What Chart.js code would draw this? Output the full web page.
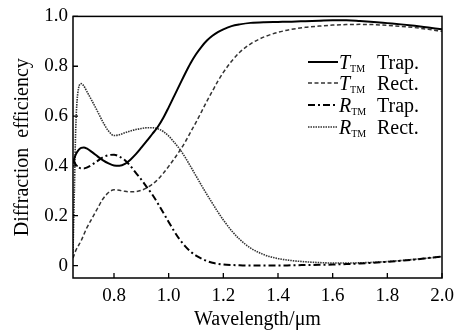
<!DOCTYPE html>
<html>
<head>
<meta charset="utf-8">
<script src="https://cdn.jsdelivr.net/npm/chart.js@4.4.1/dist/chart.umd.min.js"></script>
<style>
  html, body { margin: 0; padding: 0; background: #fff; }
  #wrap { width: 462px; height: 334px; }
</style>
</head>
<body>
<div id="wrap"><canvas id="chart" width="462" height="334"></canvas></div>
<script>
// Wavelength samples (µm) shared by all four curves
const wavelength = [0.65, 0.655, 0.66, 0.67, 0.68, 0.69, 0.70, 0.72, 0.74, 0.76, 0.78, 0.80, 0.82, 0.84, 0.86, 0.88, 0.90, 0.92, 0.94, 0.96, 0.98, 1.00, 1.02, 1.04, 1.06, 1.08, 1.10, 1.12, 1.14, 1.16, 1.18, 1.20, 1.23, 1.26, 1.30, 1.35, 1.40, 1.45, 1.50, 1.55, 1.60, 1.65, 1.70, 1.75, 1.80, 1.85, 1.90, 1.95, 2.00];

// T_TM Trap. (solid)
const tTrap = [0.41, 0.43, 0.445, 0.463, 0.472, 0.474, 0.470, 0.455, 0.438, 0.422, 0.410, 0.402, 0.401, 0.408, 0.425, 0.447, 0.473, 0.500, 0.528, 0.556, 0.592, 0.635, 0.68, 0.725, 0.77, 0.812, 0.848, 0.878, 0.903, 0.922, 0.937, 0.948, 0.961, 0.968, 0.974, 0.977, 0.978, 0.979, 0.981, 0.983, 0.985, 0.985, 0.982, 0.978, 0.973, 0.968, 0.962, 0.955, 0.948];

// T_TM Rect. (dashed)
const tRect = [0.03, 0.045, 0.06, 0.08, 0.10, 0.125, 0.15, 0.19, 0.23, 0.268, 0.293, 0.304, 0.302, 0.298, 0.296, 0.297, 0.302, 0.312, 0.326, 0.345, 0.37, 0.398, 0.428, 0.46, 0.495, 0.535, 0.575, 0.617, 0.66, 0.70, 0.74, 0.775, 0.82, 0.856, 0.89, 0.918, 0.936, 0.948, 0.956, 0.961, 0.965, 0.967, 0.968, 0.967, 0.964, 0.96, 0.955, 0.948, 0.94];

// R_TM Trap. (dash-dot)
const rTrap = [0.425, 0.415, 0.405, 0.395, 0.39, 0.39, 0.393, 0.405, 0.42, 0.435, 0.443, 0.445, 0.437, 0.423, 0.40, 0.372, 0.345, 0.315, 0.285, 0.25, 0.213, 0.175, 0.138, 0.105, 0.078, 0.056, 0.04, 0.028, 0.018, 0.011, 0.007, 0.004, 0.002, 0.001, 0.0, 0.0, 0.0, 0.001, 0.002, 0.003, 0.004, 0.006, 0.008, 0.011, 0.015, 0.019, 0.024, 0.03, 0.036];

// R_TM Rect. (dotted)
const rRect = [0.05, 0.30, 0.55, 0.71, 0.73, 0.72, 0.70, 0.66, 0.618, 0.575, 0.54, 0.522, 0.525, 0.533, 0.54, 0.546, 0.55, 0.553, 0.553, 0.549, 0.538, 0.52, 0.495, 0.468, 0.435, 0.398, 0.36, 0.322, 0.285, 0.25, 0.215, 0.183, 0.14, 0.105, 0.07, 0.043, 0.028, 0.02, 0.015, 0.012, 0.01, 0.01, 0.011, 0.013, 0.016, 0.02, 0.025, 0.03, 0.036];

const xTicks = [0.8, 1.0, 1.2, 1.4, 1.6, 1.8, 2.0];
const yTicks = [0, 0.2, 0.4, 0.6, 0.8, 1.0];

// legend entries: letter, label, style index
const legendLetters = ['T', 'T', 'R', 'R'];
const legendNames = ['Trap.', 'Rect.', 'Trap.', 'Rect.'];

const serif = '"Liberation Serif", "Times New Roman", serif';

const styles = [
    { color: '#000', width: 2, dash: [] },
    { color: '#333', width: 1.5, dash: [4, 2.5] },
    { color: '#000', width: 2, dash: [7, 3, 2, 3] },
    { color: '#333', width: 1.6, dash: [1.5, 1] }
];

function toPoints(ys) {
    return wavelength.map((x, i) => ({ x: x, y: ys[i] }));
}

function makeSet(ys, s) {
    return {
        data: toPoints(ys),
        borderColor: s.color,
        borderWidth: s.width,
        borderDash: s.dash,
        pointRadius: 0,
        fill: false,
        cubicInterpolationMode: 'monotone'
    };
}

// frame, inward ticks and custom legend with subscripts
const framePlugin = {
    id: 'frame',
    afterDraw(chart) {
        const ctx = chart.ctx;
        const a = chart.chartArea;
        const xs = chart.scales.x;
        const ys = chart.scales.y;
        ctx.save();
        ctx.strokeStyle = '#000';
        ctx.lineWidth = 1.5;
        ctx.setLineDash([]);
        ctx.strokeRect(a.left, a.top, a.right - a.left, a.bottom - a.top);

        ctx.lineWidth = 1.3;
        ctx.beginPath();
        xTicks.forEach(v => {
            const px = xs.getPixelForValue(v);
            ctx.moveTo(px, a.bottom);
            ctx.lineTo(px, a.bottom - 5);
        });
        yTicks.forEach(v => {
            const py = ys.getPixelForValue(v);
            ctx.moveTo(a.left, py);
            ctx.lineTo(a.left + 5, py);
        });
        ctx.stroke();

        // legend
        const rowY = [62, 83, 105, 127];
        ctx.textBaseline = 'alphabetic';
        for (let i = 0; i < 4; i++) {
            const s = styles[i];
            const y = rowY[i];
            ctx.strokeStyle = s.color;
            ctx.lineWidth = s.width;
            ctx.setLineDash(s.dash);
            ctx.beginPath();
            ctx.moveTo(308, y);
            ctx.lineTo(338, y);
            ctx.stroke();

            ctx.setLineDash([]);
            ctx.fillStyle = '#000';
            ctx.font = 'italic 20px ' + serif;
            ctx.textAlign = 'left';
            ctx.fillText(legendLetters[i], 339, y + 7);
            const w = ctx.measureText(legendLetters[i]).width;
            ctx.font = '10px ' + serif;
            ctx.fillText('TM', 339 + w, y + 10);
            ctx.font = '20px ' + serif;
            ctx.fillText(legendNames[i], 377, y + 7);
        }
        ctx.restore();
    }
};

new Chart(document.getElementById('chart'), {
    type: 'line',
    data: {
        datasets: [
            makeSet(tTrap, styles[0]),
            makeSet(tRect, styles[1]),
            makeSet(rTrap, styles[2]),
            makeSet(rRect, styles[3])
        ]
    },
    options: {
        responsive: false,
        animation: false,
        events: [],
        layout: { padding: { top: 11, right: 20, left: 0, bottom: 0 } },
        plugins: {
            legend: { display: false },
            tooltip: { enabled: false }
        },
        scales: {
            x: {
                type: 'linear',
                min: 0.65,
                max: 2.0,
                grid: { display: false, drawTicks: false },
                border: { display: false },
                afterBuildTicks(scale) {
                    scale.ticks = xTicks.map(v => ({ value: v }));
                },
                afterFit(scale) {
                    scale.height = 56;
                },
                ticks: {
                    padding: 7,
                    color: '#000',
                    maxRotation: 0,
                    autoSkip: false,
                    font: { family: serif, size: 19 },
                    callback: v => v.toFixed(1)
                },
                title: {
                    display: true,
                    text: 'Wavelength/μm',
                    color: '#000',
                    font: { family: serif, size: 20 },
                    padding: { top: 0, bottom: 2 }
                }
            },
            y: {
                type: 'linear',
                min: -0.05,
                max: 1.0,
                grid: { display: false, drawTicks: false },
                border: { display: false },
                afterBuildTicks(scale) {
                    scale.ticks = yTicks.map(v => ({ value: v }));
                },
                afterFit(scale) {
                    scale.width = 73;
                },
                ticks: {
                    padding: 5,
                    color: '#000',
                    autoSkip: false,
                    font: { family: serif, size: 19 },
                    callback: v => (v === 0 ? '0' : v.toFixed(1))
                },
                title: {
                    display: true,
                    text: 'Diffraction  efficiency',
                    color: '#000',
                    font: { family: serif, size: 20 },
                    padding: { top: 11, bottom: 0 }
                }
            }
        }
    },
    plugins: [framePlugin]
});
</script>
</body>
</html>
